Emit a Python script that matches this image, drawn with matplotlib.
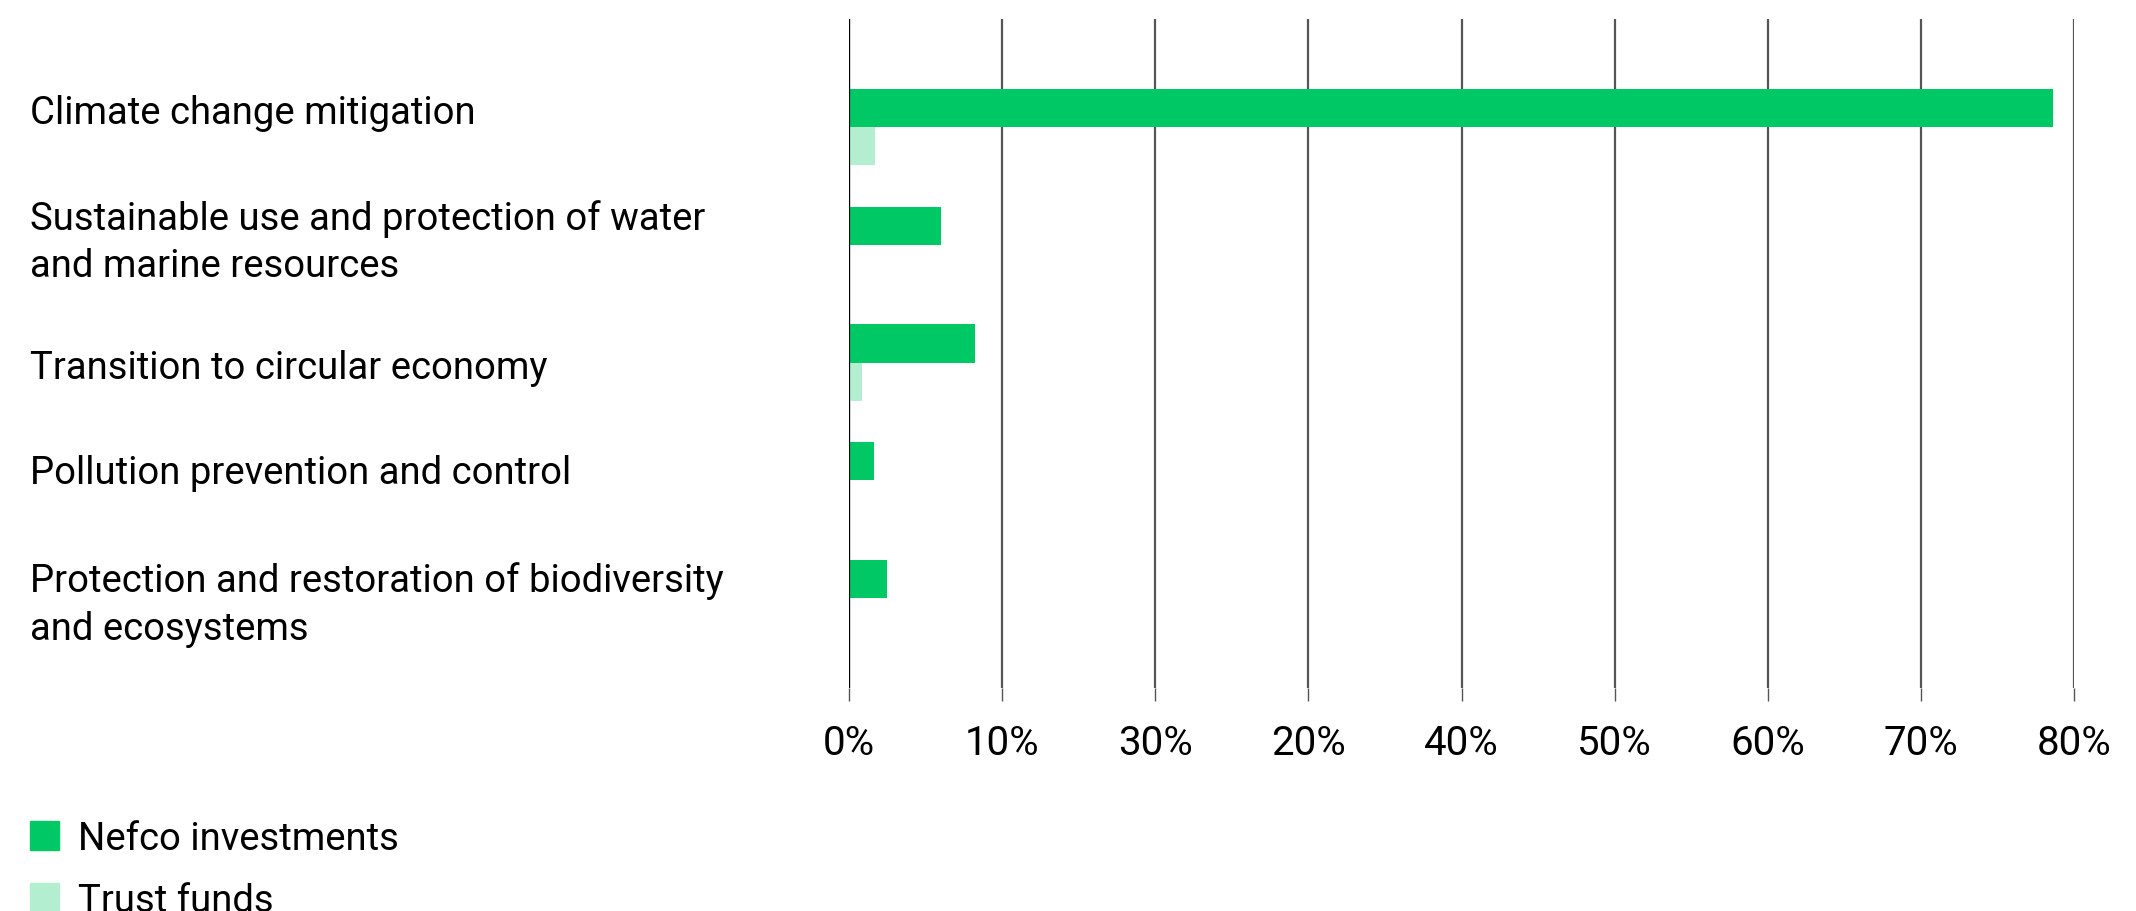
import numpy as np
import matplotlib
matplotlib.use("Agg")
import matplotlib.pyplot as plt
from matplotlib.patches import Rectangle
import matplotlib.transforms as mtransforms

plt.rcParams['font.family'] = ['Roboto', 'DejaVu Sans']

categories = [
    "Climate change mitigation",
    "Sustainable use and protection of water\nand marine resources",
    "Transition to circular economy",
    "Pollution prevention and control",
    "Protection and restoration of biodiversity\nand ecosystems",
]
nefco = [78.6, 6.0, 8.2, 1.6, 2.5]
trust = [1.7, 0.0, 0.85, 0.0, 0.0]
tick_values = [0, 10, 20, 30, 40, 50, 60, 70, 80]
tick_labels = ["0%", "10%", "30%", "20%", "40%", "50%", "60%", "70%", "80%"]
series_names = ["Nefco investments", "Trust funds"]

green = "#00c864"
light = "#b3eed0"
W, H = 2136, 911
label_size = 27.5

fig = plt.figure(figsize=(W / 100, H / 100), dpi=100)
ax = fig.add_axes([849 / W, 1 - 688 / H, (2074 - 849) / W, (688 - 19) / H])

y = np.arange(len(categories))
bar_h = 0.323
ax.barh(y, nefco, height=bar_h, color=green, align='center', zorder=3)
ax.barh(y + bar_h, trust, height=bar_h, color=light, align='center', zorder=3)

ax.set_xlim(0, 80)
ax.set_ylim(4.926, -0.756)
for s in ax.spines.values():
    s.set_visible(False)
ax.set_yticks([])
ax.set_xticks(tick_values)
ax.set_xticklabels(tick_labels, fontsize=29)
ax.tick_params(axis='x', length=9, width=1, color='#555555', pad=17, direction='out')
ax.grid(axis='x', color='#555555', linewidth=1.6, zorder=0)
ax.axvline(0, color='black', linewidth=1.6, zorder=4)

# category labels sit a little below the green bar centre
trans = mtransforms.blended_transform_factory(fig.transFigure, ax.transData)
offsets = [0.05, 0.145, 0.21, 0.1, 0.22]
for i, lab in enumerate(categories):
    ax.text(30 / W, i + offsets[i], lab, transform=trans, ha='left', va='center',
            fontsize=label_size, linespacing=1.36)

# legend at bottom left
for k, (name, col) in enumerate(zip(series_names, [green, light])):
    top = 821 + 62 * k
    fig.patches.append(Rectangle((30 / W, 1 - (top + 29) / H), 29 / W, 29 / H,
                                 transform=fig.transFigure, color=col))
    fig.text(78 / W, 1 - (top + 19) / H, name, ha='left', va='center', fontsize=label_size)

fig.savefig("out.png", dpi=100, facecolor='white')
